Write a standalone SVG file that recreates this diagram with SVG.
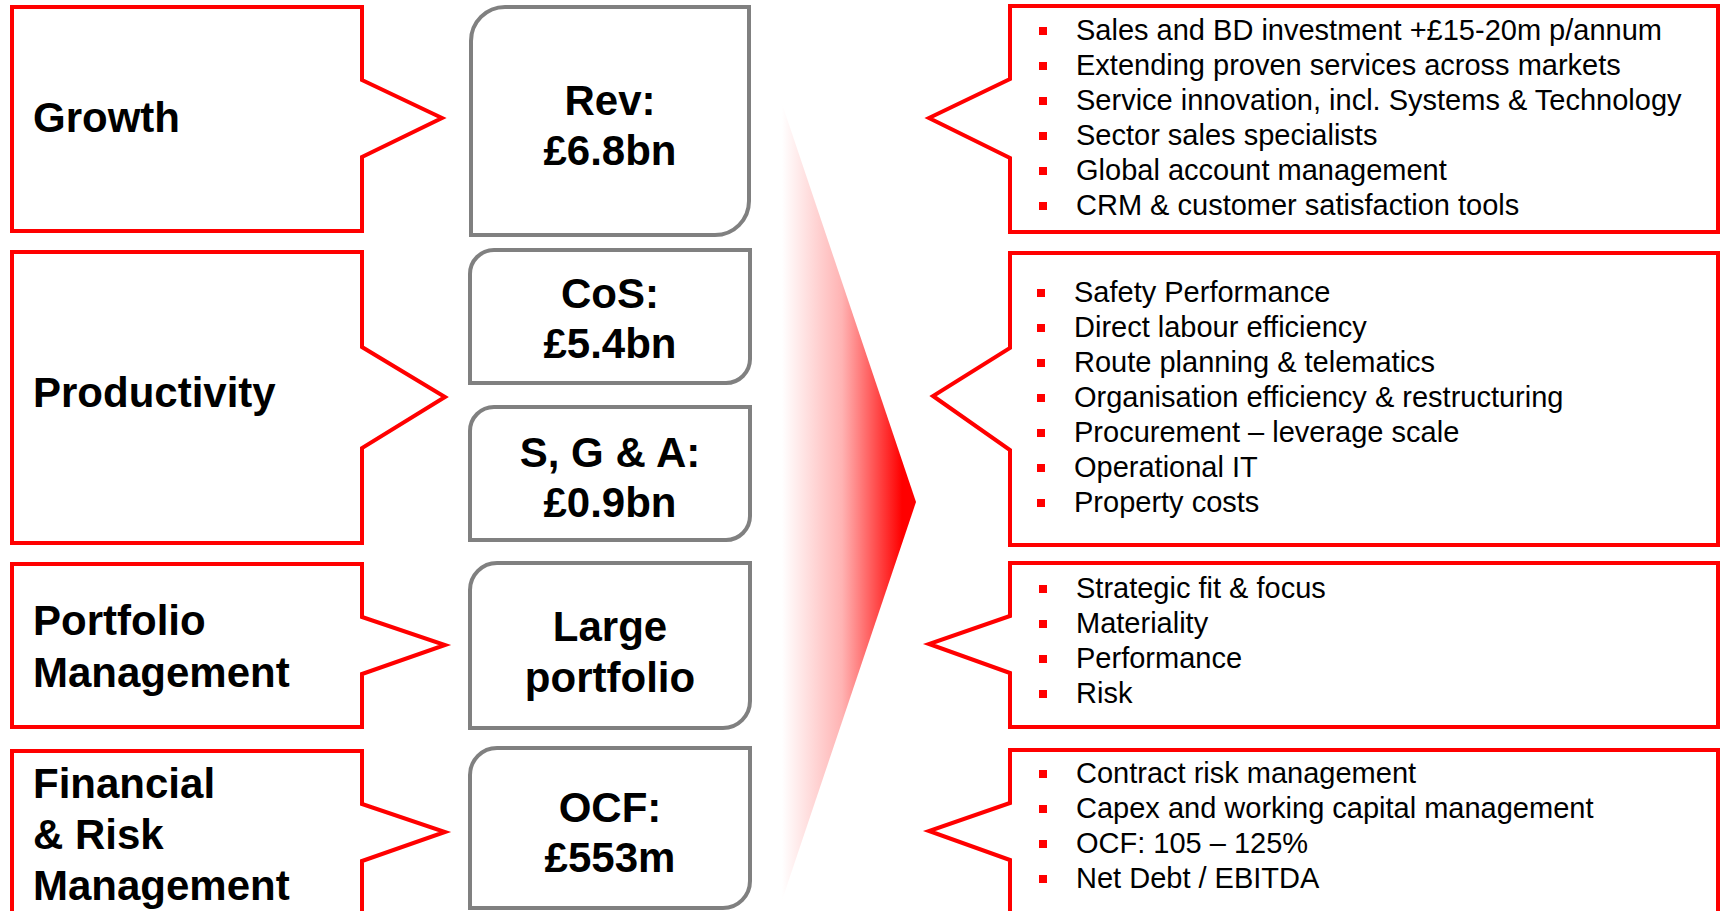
<svg xmlns="http://www.w3.org/2000/svg" width="1727" height="911" viewBox="0 0 1727 911">
<style>
.callout{fill:#fff;stroke:#ff0000;stroke-width:4;stroke-linejoin:miter}
.box{fill:#fff;stroke:#808080;stroke-width:4}
.lbl{font-family:"Liberation Sans",Arial,sans-serif;font-weight:bold;font-size:42px;fill:#000}
.mid{font-family:"Liberation Sans",Arial,sans-serif;font-weight:bold;font-size:42px;fill:#000;text-anchor:middle}
.bt{font-family:"Liberation Sans",Arial,sans-serif;font-size:29px;fill:#000}
.bl{fill:#ff0000}
</style>
<defs>
<linearGradient id="fade" gradientUnits="userSpaceOnUse" x1="782" y1="0" x2="902" y2="0">
<stop offset="0" stop-color="#ffffff"/>
<stop offset="0.5" stop-color="#ffb3b3"/>
<stop offset="1" stop-color="#ff0000"/>
</linearGradient>
</defs>
<rect width="1727" height="911" fill="#fff"/>
<g id="connectors">
<path id="flow-arrow" d="M775,83 L916,502 L775,921 Z" fill="url(#fade)"/>
</g>
<g id="growth">
<path class="callout" d="M12,7 H362 V80 L442,118 L362,157 V231 H12 Z"/>
<text class="lbl" x="33" y="132">Growth</text>
</g>
<g id="productivity">
<path class="callout" d="M12,252 H362 V347 L445,397 L362,448 V543 H12 Z"/>
<text class="lbl" x="33" y="407">Productivity</text>
</g>
<g id="portfolio">
<path class="callout" d="M12,564 H362 V617 L445,645 L362,674 V727 H12 Z"/>
<text class="lbl" x="33" y="635">Portfolio</text>
<text class="lbl" x="33" y="687">Management</text>
</g>
<g id="financial">
<path class="callout" d="M12,751 H362 V804 L445,832 L362,861 V935 H12 Z"/>
<text class="lbl" x="33" y="798">Financial</text>
<text class="lbl" x="33" y="849">&amp; Risk</text>
<text class="lbl" x="33" y="900">Management</text>
</g>
<g id="rev">
<path class="box" d="M505,7 H749 V201 A34,34 0 0 1 715,235 H471 V41 A34,34 0 0 1 505,7 Z"/>
<text class="mid" x="610" y="115">Rev:</text>
<text class="mid" x="610" y="165">£6.8bn</text>
</g>
<g id="cos">
<path class="box" d="M494,250 H750 V359 A24,24 0 0 1 726,383 H470 V274 A24,24 0 0 1 494,250 Z"/>
<text class="mid" x="610" y="308">CoS:</text>
<text class="mid" x="610" y="358">£5.4bn</text>
</g>
<g id="sga">
<path class="box" d="M494,407 H750 V516 A24,24 0 0 1 726,540 H470 V431 A24,24 0 0 1 494,407 Z"/>
<text class="mid" x="610" y="467">S, G &amp; A:</text>
<text class="mid" x="610" y="517">£0.9bn</text>
</g>
<g id="large-portfolio">
<path class="box" d="M497,563 H750 V701 A27,27 0 0 1 723,728 H470 V590 A27,27 0 0 1 497,563 Z"/>
<text class="mid" x="610" y="641">Large</text>
<text class="mid" x="610" y="692">portfolio</text>
</g>
<g id="ocf">
<path class="box" d="M497,748 H750 V881 A27,27 0 0 1 723,908 H470 V775 A27,27 0 0 1 497,748 Z"/>
<text class="mid" x="610" y="822">OCF:</text>
<text class="mid" x="610" y="872">£553m</text>
</g>
<g id="growth-actions">
<path class="callout" d="M1010,6 H1718 V232 H1010 V158 L929,118 L1010,79 Z"/>
<rect class="bl" x="1039" y="27" width="8" height="8"/><text class="bt" x="1076" y="40">Sales and BD investment +£15-20m p/annum</text>
<rect class="bl" x="1039" y="62" width="8" height="8"/><text class="bt" x="1076" y="75">Extending proven services across markets</text>
<rect class="bl" x="1039" y="97" width="8" height="8"/><text class="bt" x="1076" y="110">Service innovation, incl. Systems &amp; Technology</text>
<rect class="bl" x="1039" y="132" width="8" height="8"/><text class="bt" x="1076" y="145">Sector sales specialists</text>
<rect class="bl" x="1039" y="167" width="8" height="8"/><text class="bt" x="1076" y="180">Global account management</text>
<rect class="bl" x="1039" y="202" width="8" height="8"/><text class="bt" x="1076" y="215">CRM &amp; customer satisfaction tools</text>
</g>
<g id="productivity-actions">
<path class="callout" d="M1010,253 H1718 V545 H1010 V450 L933,396 L1010,348 Z"/>
<rect class="bl" x="1037" y="289" width="8" height="8"/><text class="bt" x="1074" y="302">Safety Performance</text>
<rect class="bl" x="1037" y="324" width="8" height="8"/><text class="bt" x="1074" y="337">Direct labour efficiency</text>
<rect class="bl" x="1037" y="359" width="8" height="8"/><text class="bt" x="1074" y="372">Route planning &amp; telematics</text>
<rect class="bl" x="1037" y="394" width="8" height="8"/><text class="bt" x="1074" y="407">Organisation efficiency &amp; restructuring</text>
<rect class="bl" x="1037" y="429" width="8" height="8"/><text class="bt" x="1074" y="442">Procurement – leverage scale</text>
<rect class="bl" x="1037" y="464" width="8" height="8"/><text class="bt" x="1074" y="477">Operational IT</text>
<rect class="bl" x="1037" y="499" width="8" height="8"/><text class="bt" x="1074" y="512">Property costs</text>
</g>
<g id="portfolio-actions">
<path class="callout" d="M1010,563 H1718 V727 H1010 V673 L929,644 L1010,616 Z"/>
<rect class="bl" x="1039" y="585" width="8" height="8"/><text class="bt" x="1076" y="598">Strategic fit &amp; focus</text>
<rect class="bl" x="1039" y="620" width="8" height="8"/><text class="bt" x="1076" y="633">Materiality</text>
<rect class="bl" x="1039" y="655" width="8" height="8"/><text class="bt" x="1076" y="668">Performance</text>
<rect class="bl" x="1039" y="690" width="8" height="8"/><text class="bt" x="1076" y="703">Risk</text>
</g>
<g id="financial-actions">
<path class="callout" d="M1010,750 H1718 V935 H1010 V860 L929,831 L1010,803 Z"/>
<rect class="bl" x="1039" y="770" width="8" height="8"/><text class="bt" x="1076" y="783">Contract risk management</text>
<rect class="bl" x="1039" y="805" width="8" height="8"/><text class="bt" x="1076" y="818">Capex and working capital management</text>
<rect class="bl" x="1039" y="840" width="8" height="8"/><text class="bt" x="1076" y="853">OCF: 105 – 125%</text>
<rect class="bl" x="1039" y="875" width="8" height="8"/><text class="bt" x="1076" y="888">Net Debt / EBITDA</text>
</g>
</svg>
